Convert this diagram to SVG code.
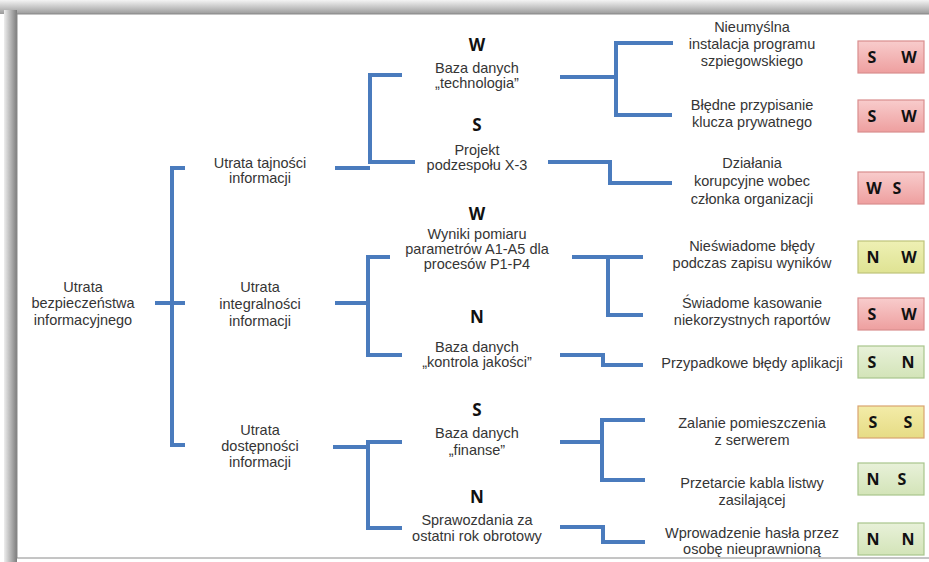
<svg xmlns="http://www.w3.org/2000/svg" width="929" height="562" viewBox="0 0 929 562">
<defs>
<linearGradient id="gTop" x1="0" y1="0" x2="0" y2="1"><stop offset="0" stop-color="#f4f4f4"/><stop offset="1" stop-color="#9a9a9a"/></linearGradient>
<linearGradient id="gLeft" x1="0" y1="0" x2="1" y2="0"><stop offset="0" stop-color="#eeeeee"/><stop offset="1" stop-color="#7d7d7d"/></linearGradient>
<linearGradient id="gRed" x1="0" y1="0" x2="0" y2="1"><stop offset="0" stop-color="#f8cccc"/><stop offset="1" stop-color="#ee9f9f"/></linearGradient>
<linearGradient id="gYel" x1="0" y1="0" x2="0" y2="1"><stop offset="0" stop-color="#eef0b4"/><stop offset="1" stop-color="#dfe393"/></linearGradient>
<linearGradient id="gOr" x1="0" y1="0" x2="0" y2="1"><stop offset="0" stop-color="#f3eca8"/><stop offset="1" stop-color="#e6dc85"/></linearGradient>
<linearGradient id="gGrn" x1="0" y1="0" x2="0" y2="1"><stop offset="0" stop-color="#e8f1d9"/><stop offset="1" stop-color="#d3e4b8"/></linearGradient>
</defs>
<style>
.t{font-family:"Liberation Sans",Arial,sans-serif;font-size:14.5px;fill:#353535;text-anchor:middle}
.b{font-family:"Open Sans","Liberation Sans",sans-serif;font-weight:bold;font-size:17px;fill:#111;text-anchor:middle}
.k{font-family:"Open Sans","Liberation Sans",sans-serif;font-weight:bold;font-size:16px;fill:#111;text-anchor:middle}
.c path{fill:none;stroke:#4a7bbd;stroke-width:4;stroke-linejoin:miter}
.red{fill:url(#gRed);stroke:#d98e8e;stroke-width:1.2}
.yel{fill:url(#gYel);stroke:#bfc47a;stroke-width:1.2}
.or{fill:url(#gOr);stroke:#d9a470;stroke-width:1.2}
.grn{fill:url(#gGrn);stroke:#a8c58c;stroke-width:1.2}
</style>
<rect x="0" y="0" width="929" height="562" fill="#ffffff"/>
<rect x="0" y="0" width="929" height="14" fill="url(#gTop)"/>
<rect x="4" y="10" width="13" height="552" fill="url(#gLeft)"/>
<rect x="17" y="14" width="914" height="544" fill="#ffffff" stroke="#8a8a8a" stroke-width="1"/>

<g class="c" id="connectors">
<path d="M185,168 H172 V445 H185"/>
<path d="M155,303 H185"/>
<path d="M335,168 H370"/>
<path d="M402,75 H370 V162 H415"/>
<path d="M335,303 H368"/>
<path d="M390,257 H368 V355 H402"/>
<path d="M333,447 H368"/>
<path d="M402,442 H368 V528 H402"/>
<path d="M560,77 H616"/>
<path d="M673,43 H616 V115 H672"/>
<path d="M548,162 H610 V183 H672"/>
<path d="M572,257 H643"/>
<path d="M608,257 V315 H643"/>
<path d="M560,355 H603 V365 H643"/>
<path d="M560,442 H602"/>
<path d="M645,420 H602 V480 H645"/>
<path d="M560,527 H603 V542 H645"/>
</g>

<g id="root"><text class="t" x="83" y="292">Utrata</text><text class="t" x="83" y="308">bezpieczeństwa</text><text class="t" x="83" y="325">informacyjnego</text></g>

<g id="l1a"><text class="t" x="260" y="168">Utrata tajności</text><text class="t" x="260" y="183">informacji</text></g>
<g id="l1b"><text class="t" x="260" y="292">Utrata</text><text class="t" x="260" y="309">integralności</text><text class="t" x="260" y="326">informacji</text></g>
<g id="l1c"><text class="t" x="260" y="435">Utrata</text><text class="t" x="260" y="451">dostępności</text><text class="t" x="260" y="467">informacji</text></g>

<g id="m1"><text class="b" x="477" y="51">W</text><text class="t" x="477" y="73">Baza danych</text><text class="t" x="477" y="88">„technologia”</text></g>
<g id="m2"><text class="b" x="477" y="131">S</text><text class="t" x="477" y="155">Projekt</text><text class="t" x="477" y="170">podzespołu X-3</text></g>
<g id="m3"><text class="b" x="477" y="220">W</text><text class="t" x="477" y="239">Wyniki pomiaru</text><text class="t" x="477" y="254">parametrów  A1-A5 dla</text><text class="t" x="477" y="269">procesów P1-P4</text></g>
<g id="m4"><text class="b" x="477" y="323">N</text><text class="t" x="477" y="352">Baza danych</text><text class="t" x="477" y="367">„kontrola jakości”</text></g>
<g id="m5"><text class="b" x="477" y="416">S</text><text class="t" x="477" y="438">Baza danych</text><text class="t" x="477" y="455">„finanse”</text></g>
<g id="m6"><text class="b" x="477" y="503">N</text><text class="t" x="477" y="525">Sprawozdania  za</text><text class="t" x="477" y="541">ostatni rok obrotowy</text></g>

<g id="r1"><text class="t" x="752" y="32">Nieumyślna</text><text class="t" x="752" y="49">instalacja programu</text><text class="t" x="752" y="66">szpiegowskiego</text></g>
<g id="r2"><text class="t" x="752" y="110">Błędne przypisanie</text><text class="t" x="752" y="127">klucza prywatnego</text></g>
<g id="r3"><text class="t" x="752" y="168">Działania</text><text class="t" x="752" y="186">korupcyjne wobec</text><text class="t" x="752" y="204">członka organizacji</text></g>
<g id="r4"><text class="t" x="752" y="251">Nieświadome błędy</text><text class="t" x="752" y="268">podczas zapisu wyników</text></g>
<g id="r5"><text class="t" x="752" y="308">Świadome kasowanie</text><text class="t" x="752" y="325">niekorzystnych  raportów</text></g>
<g id="r6"><text class="t" x="752" y="368">Przypadkowe błędy aplikacji</text></g>
<g id="r7"><text class="t" x="752" y="428">Zalanie pomieszczenia</text><text class="t" x="752" y="445">z serwerem</text></g>
<g id="r8"><text class="t" x="752" y="488">Przetarcie kabla listwy</text><text class="t" x="752" y="505">zasilającej</text></g>
<g id="r9"><text class="t" x="752" y="538">Wprowadzenie hasła przez</text><text class="t" x="752" y="554">osobę nieuprawnioną</text></g>

<g id="b1"><rect class="red" x="858" y="41" width="66" height="32"/><text class="k" x="872" y="63">S</text><text class="k" x="909" y="63">W</text></g>
<g id="b2"><rect class="red" x="858" y="100" width="66" height="32"/><text class="k" x="872" y="122">S</text><text class="k" x="909" y="122">W</text></g>
<g id="b3"><rect class="red" x="858" y="172" width="66" height="32"/><text class="k" x="874" y="194">W</text><text class="k" x="897" y="194">S</text></g>
<g id="b4"><rect class="yel" x="858" y="241" width="66" height="32"/><text class="k" x="873" y="263">N</text><text class="k" x="909" y="263">W</text></g>
<g id="b5"><rect class="red" x="858" y="298" width="66" height="32"/><text class="k" x="872" y="320">S</text><text class="k" x="909" y="320">W</text></g>
<g id="b6"><rect class="grn" x="858" y="346" width="66" height="32"/><text class="k" x="872" y="368">S</text><text class="k" x="908" y="368">N</text></g>
<g id="b7"><rect class="or" x="858" y="406" width="66" height="32"/><text class="k" x="873" y="428">S</text><text class="k" x="908" y="428">S</text></g>
<g id="b8"><rect class="grn" x="858" y="463" width="66" height="32"/><text class="k" x="873" y="485">N</text><text class="k" x="902" y="485">S</text></g>
<g id="b9"><rect class="grn" x="858" y="523" width="66" height="32"/><text class="k" x="873" y="545">N</text><text class="k" x="908" y="545">N</text></g>
</svg>
